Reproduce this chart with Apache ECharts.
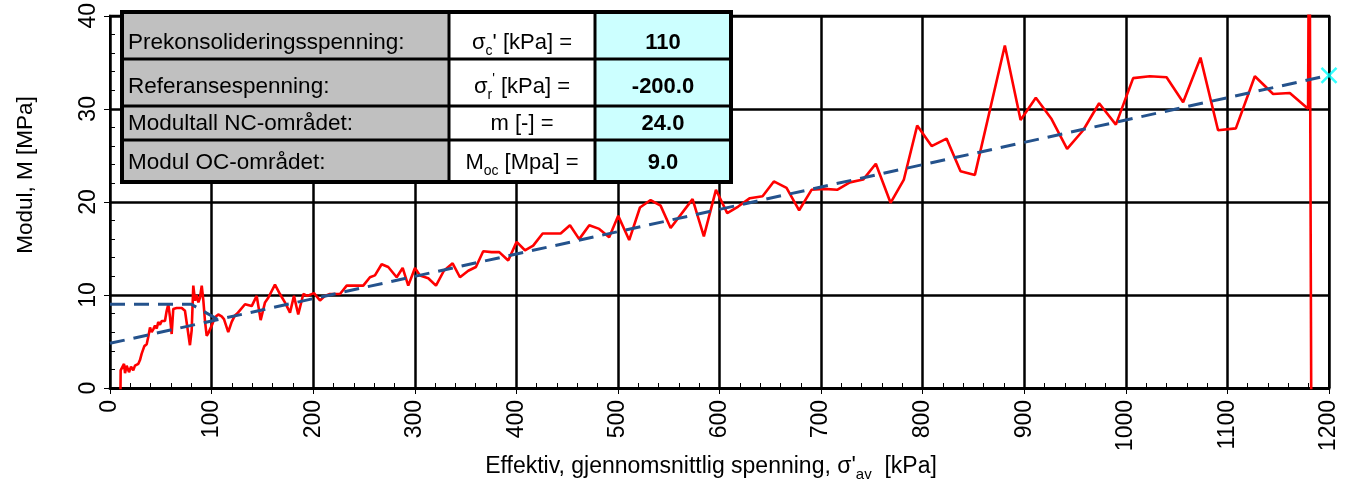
<!DOCTYPE html>
<html>
<head>
<meta charset="utf-8">
<script src="https://cdn.jsdelivr.net/npm/echarts@6/dist/echarts.min.js"></script>
<style>
  html, body { margin: 0; padding: 0; background: #fff; }
  #chart { width: 1354px; height: 483px; }
</style>
</head>
<body>
<div id="chart"></div>
<script>
// Measured oedometer modulus against mean effective stress
const stress = [10.3, 10.5, 12.1, 13.8, 14.8, 16.4, 18.7, 20.7, 22.9, 24.6,
  26.3, 27.9, 29.5, 31.2, 33.8, 36.1, 37.7, 39.4, 41.0, 42.6,
  44.3, 46.0, 47.5, 49.2, 50.9, 52.5, 54.1, 55.8, 57.4, 59.1,
  60.7, 62.3, 64.0, 65.6, 67.3, 70.6, 73.8, 75.5, 78.7, 80.4,
  82.0, 83.7, 85.3, 87.0, 88.6, 90.3, 91.9, 93.5, 95.2, 96.8,
  100.1, 103.3, 106.6, 109.9, 112.2, 116.4, 119.8, 123.0, 126.0, 132.9,
  139.5, 144.4, 148.3, 152.6, 155.8, 162.4, 167.3, 172.2, 177.2, 181.1,
  185.3, 190.3, 194.2, 200.8, 206.7, 211.6, 216.5, 226.4, 233.0, 249.3,
  255.9, 260.8, 267.4, 273.9, 282.2, 288.1, 293.6, 300.2, 305.1, 313.3,
  320.9, 328.7, 337.3, 344.5, 352.7, 360.2, 367.4, 375.7, 383.2, 392.0,
  400.3, 408.5, 416.6, 425.9, 436.3, 443.6, 452.8, 461.9, 471.8, 481.6,
  491.4, 500.3, 511.1, 521.7, 532.2, 542.0, 551.9, 573.5, 584.6, 596.5,
  607.6, 618.4, 629.9, 642.4, 653.5, 666.0, 678.4, 690.6, 702.8, 715.8,
  728.3, 741.4, 753.9, 768.4, 781.5, 794.6, 808.8, 823.5, 837.3, 851.4,
  880.9, 896.4, 911.4, 926.9, 942.2, 958.0, 973.7, 990.2, 1007.2, 1023.6,
  1040.1, 1056.4, 1073.5, 1090.8, 1108.3, 1127.0, 1145.0, 1161.4, 1179.4, 1180.6,
  1182.8];
const modulus = [-0.5, 1.9, 2.1, 2.6, 1.6, 2.4, 1.7, 2.3, 1.9, 2.4,
  2.2, 2.6, 3.0, 3.7, 4.5, 4.7, 5.5, 6.5, 6.0, 6.3,
  6.7, 6.4, 7.1, 6.8, 7.2, 7.4, 7.2, 8.3, 9.0, 7.6,
  5.8, 8.5, 8.4, 8.6, 8.4, 8.6, 8.3, 8.1, 4.6, 6.2,
  11.0, 9.4, 10.0, 9.2, 9.7, 11.0, 9.4, 7.2, 5.6, 5.9,
  6.7, 7.6, 7.9, 7.7, 7.4, 6.0, 7.1, 7.8, 8.1, 9.0,
  8.8, 9.9, 7.3, 9.2, 9.7, 11.1, 10.1, 9.2, 8.1, 9.9,
  7.9, 10.1, 9.9, 10.2, 9.4, 9.9, 10.1, 10.1, 11.0, 11.0,
  11.9, 12.1, 13.3, 13.0, 11.9, 12.9, 11.0, 12.9, 12.1, 11.8,
  11.0, 12.6, 13.4, 11.9, 12.6, 13.0, 14.7, 14.6, 14.6, 13.7,
  15.7, 14.8, 15.3, 16.6, 16.6, 16.6, 17.5, 16.0, 17.5, 17.1,
  16.2, 18.5, 15.9, 19.4, 20.2, 19.6, 17.2, 20.3, 16.3, 21.3,
  18.8, 19.5, 20.4, 20.6, 22.2, 21.5, 19.1, 21.3, 21.4, 21.3,
  22.1, 22.4, 24.1, 19.9, 22.4, 28.2, 26.0, 26.8, 23.3, 22.9,
  36.8, 28.8, 31.2, 28.9, 25.7, 27.7, 30.6, 28.3, 33.3, 33.5,
  33.4, 30.7, 35.5, 27.7, 27.9, 33.5, 31.6, 31.7, 30.0, 60,
  -10];

// Interpreted model lines: normally consolidated (NC) and overconsolidated (OC) branches
const ncStress = [0, 1200];
const ncModulus = [4.8, 33.6];
const ocStress = [0, 80, 112];
const ocModulus = [9.0, 9.0, 7.0];
const endStress = [1200];
const endModulus = [33.6];

// Parameter table
const paramLabels = ['Prekonsolideringsspenning:', 'Referansespenning:', 'Modultall NC-området:', 'Modul OC-området:'];
const paramSymbols = [
  "{t|σ}{sub|c}{t|' [kPa] =}",
  "{t|σ}{sub|r}{sup|'}{t| [kPa] =}",
  "{t|m [-] =}",
  "{t|M}{sub|oc}{t| [Mpa] =}"
];
const paramValues = ['110', '-200.0', '24.0', '9.0'];

const FONT = 'Liberation Sans, Arial, sans-serif';
const zip = (xs, ys) => xs.map((x, i) => [x, ys[i]]);

// Table geometry (pixels)
const colX = [122, 449, 595, 731];
const rowY = [12, 59, 106, 140, 182];
const textY = [43, 87, 124, 163];
const fills = ['#c0c0c0', '#ffffff', '#ccffff'];

const tableEls = [];
for (let r = 0; r < 4; r++) {
  for (let c = 0; c < 3; c++) {
    tableEls.push({
      type: 'rect', z: 100,
      shape: { x: colX[c], y: rowY[r], width: colX[c + 1] - colX[c], height: rowY[r + 1] - rowY[r] },
      style: { fill: fills[c] }
    });
  }
}
rowY.forEach((y, i) => {
  const w = (i === 0 || i === rowY.length - 1) ? 4 : 3;
  tableEls.push({ type: 'line', z: 101, shape: { x1: colX[0] - 2, y1: y, x2: colX[3] + 2, y2: y },
    style: { stroke: '#000', lineWidth: w } });
});
colX.forEach((x, i) => {
  const w = (i === 0 || i === colX.length - 1) ? 4 : 3;
  tableEls.push({ type: 'line', z: 101, shape: { x1: x, y1: rowY[0], x2: x, y2: rowY[4] },
    style: { stroke: '#000', lineWidth: w } });
});
const richText = {
  t: { fontSize: 22, fontFamily: FONT, lineHeight: 30, verticalAlign: 'middle', fill: '#000' },
  sub: { fontSize: 14, fontFamily: FONT, lineHeight: 30, verticalAlign: 'bottom', fill: '#000' },
  sup: { fontSize: 14, fontFamily: FONT, lineHeight: 30, verticalAlign: 'top', fill: '#000' }
};
for (let r = 0; r < 4; r++) {
  tableEls.push({ type: 'text', z: 102, x: colX[0] + 6, y: textY[r],
    style: { text: paramLabels[r], font: '22.5px ' + FONT, fill: '#000', textAlign: 'left', textVerticalAlign: 'middle' } });
  tableEls.push({ type: 'text', z: 102, x: (colX[1] + colX[2]) / 2, y: textY[r],
    style: { text: paramSymbols[r], rich: richText, fill: '#000', textAlign: 'center', textVerticalAlign: 'middle' } });
  tableEls.push({ type: 'text', z: 102, x: (colX[2] + colX[3]) / 2, y: textY[r],
    style: { text: paramValues[r], font: 'bold 22px ' + FONT, fill: '#000', textAlign: 'center', textVerticalAlign: 'middle' } });
}

// Axis titles
const titleEls = [
  { type: 'text', z: 50, x: 26, y: 175, rotation: Math.PI / 2,
    style: { text: 'Modul, M [MPa]', font: '22.5px ' + FONT, fill: '#000', textAlign: 'center', textVerticalAlign: 'middle' } },
  { type: 'text', z: 50, x: 711, y: 467,
    style: { text: "{t|Effektiv, gjennomsnittlig spenning, σ'}{sub|av}{t|  [kPa]}",
      rich: {
        t: { fontSize: 23, fontFamily: FONT, lineHeight: 30, verticalAlign: 'middle', fill: '#000' },
        sub: { fontSize: 15, fontFamily: FONT, lineHeight: 30, verticalAlign: 'bottom', fill: '#000' }
      },
      textAlign: 'center', textVerticalAlign: 'middle' } }
];

const plainNumber = v => String(v);

const chart = echarts.init(document.getElementById('chart'), null, { renderer: 'canvas' });
chart.setOption({
  animation: false,
  backgroundColor: '#ffffff',
  grid: { left: 110, right: 25, top: 12, bottom: 95, show: true, borderColor: '#000', borderWidth: 2, containLabel: false },
  xAxis: [{
    type: 'value', min: 0, max: 1200, interval: 100, position: 'bottom',
    axisLine: { show: true, onZero: false, lineStyle: { color: '#000', width: 3 } },
    axisTick: { show: true, inside: true, length: 6, lineStyle: { color: '#000' } },
    minorTick: { show: true, splitNumber: 5, length: 5, lineStyle: { color: '#000', width: 1 } },
    splitLine: { show: true, lineStyle: { color: '#000', width: 2.5 } },
    axisLabel: { rotate: 90, margin: 12, fontSize: 23, color: '#000', fontFamily: FONT, formatter: plainNumber }
  }, {
    type: 'value', min: 0, max: 1200, interval: 100, position: 'bottom',
    axisLine: { show: false, onZero: false },
    axisTick: { show: true, length: 6, lineStyle: { color: '#000' } },
    axisLabel: { show: false }, splitLine: { show: false }
  }],
  yAxis: [{
    type: 'value', min: 0, max: 40, interval: 10, position: 'left',
    axisLine: { show: true, onZero: false, lineStyle: { color: '#000', width: 2 } },
    axisTick: { show: true, inside: true, length: 6, lineStyle: { color: '#000' } },
    minorTick: { show: true, splitNumber: 5, length: 5, lineStyle: { color: '#000', width: 1 } },
    splitLine: { show: true, lineStyle: { color: '#000', width: 2.5 } },
    axisLabel: { rotate: 90, margin: 10, fontSize: 23, color: '#000', fontFamily: FONT, formatter: plainNumber }
  }, {
    type: 'value', min: 0, max: 40, interval: 10, position: 'left',
    axisLine: { show: false, onZero: false },
    axisTick: { show: true, length: 6, lineStyle: { color: '#000' } },
    axisLabel: { show: false }, splitLine: { show: false }
  }],
  series: [
    {
      name: 'Målt modul', type: 'line', data: zip(stress, modulus), showSymbol: false, symbol: 'none',
      clip: true, z: 4, lineStyle: { color: '#ff0000', width: 2.6 }
    },
    {
      name: 'NC', type: 'line', data: zip(ncStress, ncModulus), showSymbol: false, symbol: 'none',
      z: 5, lineStyle: { color: '#24528c', width: 3, type: [15, 9] }
    },
    {
      name: 'OC', type: 'line', data: zip(ocStress, ocModulus), showSymbol: false, symbol: 'none',
      z: 5, lineStyle: { color: '#24528c', width: 3, type: [15, 9] }
    },
    {
      name: 'Endepunkt', type: 'scatter', data: zip(endStress, endModulus), clip: false, z: 6,
      symbol: 'path://M0,0L10,10M10,0L0,10', symbolSize: 15,
      itemStyle: { color: 'none', borderColor: '#00ffff', borderWidth: 2.5 }
    }
  ],
  graphic: tableEls.concat(titleEls)
});
</script>
</body>
</html>
